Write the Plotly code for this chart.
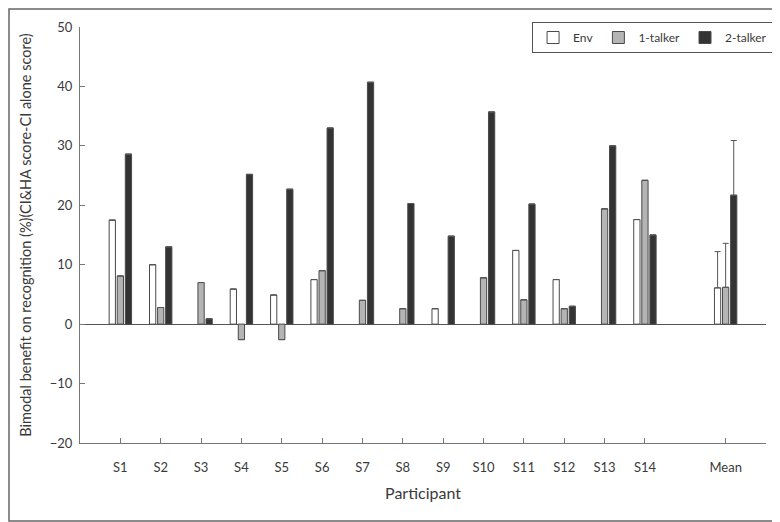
import plotly.graph_objects as go

participants = ["S1", "S2", "S3", "S4", "S5", "S6", "S7", "S8", "S9", "S10",
                "S11", "S12", "S13", "S14", "Mean"]
positions = [1, 2, 3, 4, 5, 6, 7, 8, 9, 10, 11, 12, 13, 14, 16]

# None = no bar visible in the reference
env = [17.5, 10.0, None, 5.9, 4.9, 7.5, None, None, 2.6, None, 12.4, 7.5, None, 17.6, 6.1]
talker1 = [8.1, 2.8, 7.0, -2.6, -2.6, 9.0, 4.0, 2.6, None, 7.8, 4.1, 2.6, 19.4, 24.2, 6.2]
talker2 = [28.6, 13.0, 0.9, 25.2, 22.7, 33.0, 40.7, 20.3, 14.8, 35.7, 20.2, 3.0, 30.0, 15.0, 21.7]

# upward-only error bars (Mean only)
env_err = [None] * 14 + [6.1]
t1_err = [None] * 14 + [7.4]
t2_err = [None] * 14 + [9.2]

FONT = "Lato"
TXT = "#3a3a3a"
EDGE = "#4a4a4a"

fig = go.Figure()

def add(name, vals, errs, fill):
    fig.add_trace(go.Bar(
        x=positions, y=vals, name=name,
        marker=dict(color=fill, line=dict(color=EDGE, width=1)),
        error_y=dict(type="data", array=errs, arrayminus=[0] * len(errs),
                     symmetric=False, color="#555555", thickness=1, width=3),
    ))

add("Env", env, env_err, "#ffffff")
add("1-talker", talker1, t1_err, "#b4b4b4")
add("2-talker", talker2, t2_err, "#333333")

# page body adds an 8px offset; figure is sized to fill the rest of the window
W, H = 772, 514
L, T, PW, PH = 72, 19, 686, 416

fig.update_layout(
    width=W, height=H,
    margin=dict(l=L, r=W - L - PW, t=T, b=H - T - PH, autoexpand=False),
    paper_bgcolor="white", plot_bgcolor="white",
    barmode="group", bargap=0.4, bargroupgap=0.225,
    font=dict(family=FONT, size=13, color=TXT),
    showlegend=True,
    legend=dict(orientation="h", x=0.659, y=1.012, xanchor="left", yanchor="top",
                bordercolor="#555555", borderwidth=1, bgcolor="white",
                font=dict(size=12, color=TXT), itemwidth=30),
    xaxis=dict(range=[0, 17], tickmode="array", tickvals=positions, ticktext=participants,
               showline=True, linecolor="#777777", linewidth=1,
               ticks="inside", ticklen=5, tickcolor="#777777", ticklabelstandoff=12,
               showgrid=False, zeroline=False, automargin=False,
               title=dict(text="Participant", standoff=14)),
    yaxis=dict(range=[-20, 50], dtick=10, tick0=0,
               showline=True, linecolor="#777777", linewidth=1,
               ticks="inside", ticklen=5, tickcolor="#777777", ticklabelstandoff=4,
               showgrid=False, zeroline=True, zerolinecolor="#555555", zerolinewidth=1,
               automargin=False,
               title=dict(text="Bimodal benefit on recognition (%)(CI&HA score-CI alone score)",
                          standoff=14, font=dict(size=14.5))),
    shapes=[dict(type="rect", xref="paper", yref="paper",
                 x0=(1 - L) / PW, x1=(W - 1 - L) / PW,
                 y0=(T + PH - (H - 1)) / PH, y1=(T + PH - 1) / PH,
                 line=dict(color="#666666", width=1.5))],
)

fig.write_html("out.html")
